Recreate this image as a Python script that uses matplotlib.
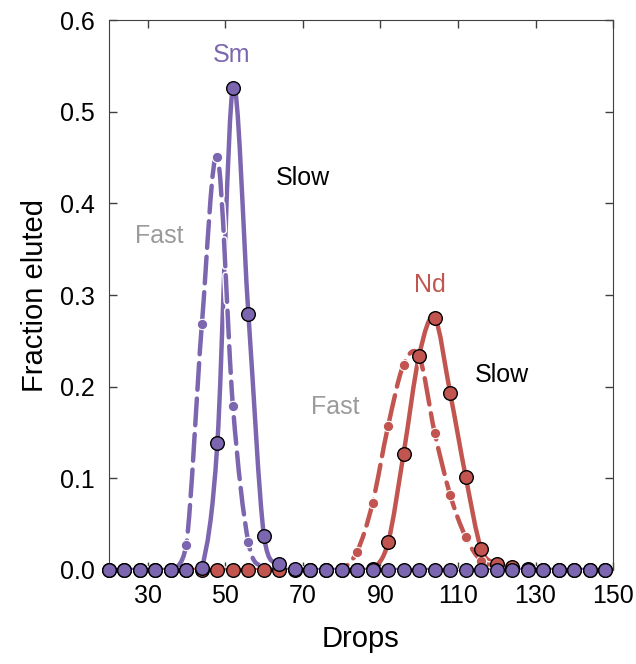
import numpy as np
import matplotlib
matplotlib.use("Agg")
import matplotlib.pyplot as plt
from matplotlib.path import Path
from matplotlib.patches import PathPatch
import matplotlib.patheffects as pe

plt.rcParams['font.family'] = ['Liberation Sans', 'DejaVu Sans']

# drops collected, every 4 drops
drops = [20, 24, 28, 32, 36, 40, 44, 48, 52, 56, 60, 64, 68, 72, 76, 80, 84,
         88, 92, 96, 100, 104, 108, 112, 116, 120, 124, 128, 132, 136, 140, 144, 148]

sm_slow = [0, 0, 0, 0, 0, 0, 0.002, 0.139, 0.526, 0.279, 0.037, 0.006, 0.001, 0, 0, 0, 0,
           0, 0, 0, 0, 0, 0, 0, 0, 0, 0, 0, 0, 0, 0, 0, 0]
sm_fast = [0, 0, 0, 0, 0, 0.027, 0.268, 0.451, 0.179, 0.030, 0.003, 0, 0, 0, 0, 0, 0,
           0, 0, 0, 0, 0, 0, 0, 0, 0, 0, 0, 0, 0, 0, 0, 0]
nd_slow = [0, 0, 0, 0, 0, 0, 0, 0, 0, 0, 0, 0, 0, 0, 0, 0, 0,
           0.001, 0.030, 0.127, 0.234, 0.275, 0.193, 0.102, 0.023, 0.007, 0.003, 0.001, 0, 0, 0, 0, 0]
nd_fast = [0, 0, 0, 0, 0, 0, 0, 0, 0, 0, 0, 0, 0, 0, 0, 0.001, 0.020,
           0.073, 0.157, 0.224, 0.233, 0.150, 0.082, 0.036, 0.010, 0.004, 0.001, 0, 0, 0, 0, 0, 0]

PURPLE = '#7B66AF'
RED = '#C25550'
GRAY = '#9B9B9B'


def smooth_path(x, y):
    # catmull-rom style bezier through the points, control points kept >= 0
    x = np.asarray(x, float); y = np.asarray(y, float)
    verts = [(x[0], y[0])]
    codes = [Path.MOVETO]
    n = len(x)
    for i in range(n - 1):
        x0, y0 = x[max(i - 1, 0)], y[max(i - 1, 0)]
        x1, y1 = x[i], y[i]
        x2, y2 = x[i + 1], y[i + 1]
        x3, y3 = x[min(i + 2, n - 1)], y[min(i + 2, n - 1)]
        c1 = (x1 + (x2 - x0) / 6, max(y1 + (y2 - y0) / 6, 0))
        c2 = (x2 - (x3 - x1) / 6, max(y2 - (y3 - y1) / 6, 0))
        verts += [c1, c2, (x2, y2)]
        codes += [Path.CURVE4] * 3
    return Path(verts, codes)


fig = plt.figure(figsize=(6.36, 6.64), dpi=100)
ax = fig.add_axes([0.171, 0.1416, 0.793, 0.828])

# solid curves (slow)
for vals, col in [(nd_slow, RED), (sm_slow, PURPLE)]:
    ax.add_patch(PathPatch(smooth_path(drops, vals), fill=False, edgecolor=col,
                           lw=3.2, capstyle='round', joinstyle='round', zorder=2))

# dashed curves (fast), white outline
for vals, col in [(nd_fast, RED), (sm_fast, PURPLE)]:
    p = PathPatch(smooth_path(drops, vals), fill=False, edgecolor=col, lw=3.2,
                  linestyle=(0, (6, 2)), capstyle='round', zorder=3)
    p.set_path_effects([pe.Stroke(linewidth=5.2, foreground='white'), pe.Normal()])
    ax.add_patch(p)

ax.plot(drops, nd_fast, 'o', color=RED, ms=7.5, mec='white', mew=0.8, zorder=4, clip_on=False)
ax.plot(drops, sm_fast, 'o', color=PURPLE, ms=7.5, mec='white', mew=0.8, zorder=4, clip_on=False)
ax.plot(drops, nd_slow, 'o', color=RED, ms=9.8, mec='black', mew=1.0, zorder=5, clip_on=False)
ax.plot(drops, sm_slow, 'o', color=PURPLE, ms=9.8, mec='black', mew=1.0, zorder=6, clip_on=False)

ax.set_xlim(20, 150)
ax.set_ylim(0, 0.6)
ax.set_xticks([30, 50, 70, 90, 110, 130, 150])
ax.set_yticks([0, 0.1, 0.2, 0.3, 0.4, 0.5, 0.6])
ax.yaxis.set_major_formatter(matplotlib.ticker.FormatStrFormatter('%.1f'))
ax.tick_params(direction='in', length=6, width=1, color='#404040', labelsize=18,
               top=True, right=True, pad=10)
for s in ['left', 'right', 'top']:
    ax.spines[s].set_color('#404040')
ax.spines['bottom'].set_visible(False)

ax.set_xlabel('Drops', fontsize=21, labelpad=12)
ax.set_ylabel('Fraction eluted', fontsize=21, labelpad=8)

ax.text(51.7, 0.562, 'Sm', color=PURPLE, fontsize=18, ha='center', va='center')
ax.text(70, 0.428, 'Slow', color='black', fontsize=18, ha='center', va='center')
ax.text(33.1, 0.365, 'Fast', color=GRAY, fontsize=18, ha='center', va='center')
ax.text(102.8, 0.311, 'Nd', color=RED, fontsize=18, ha='center', va='center')
ax.text(121.4, 0.213, 'Slow', color='black', fontsize=18, ha='center', va='center')
ax.text(78.3, 0.178, 'Fast', color=GRAY, fontsize=18, ha='center', va='center')

fig.savefig('out.png', dpi=100)
